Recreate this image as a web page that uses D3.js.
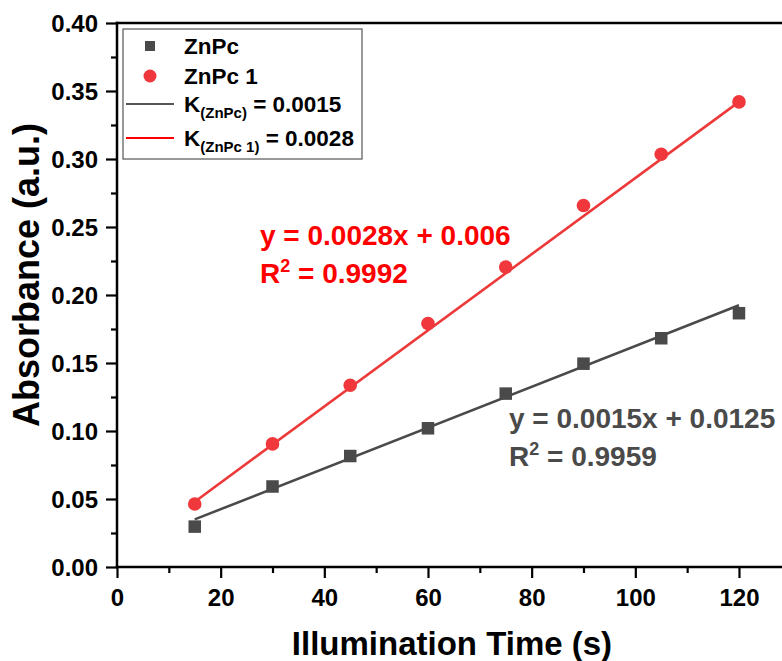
<!DOCTYPE html>
<html>
<head>
<meta charset="utf-8">
<script src="https://cdn.jsdelivr.net/npm/d3@7"></script>
<style>
  html, body { margin: 0; padding: 0; background: #fff; }
  svg { display: block; font-family: "Liberation Sans", Arial, sans-serif; font-weight: bold; }
</style>
</head>
<body>
<svg id="chart" width="782" height="661"></svg>
<script>
// Illumination time (s)
const times = [15, 30, 45, 60, 75, 90, 105, 120];
// Absorbance readings
const absZnPc  = [0.0297, 0.0592, 0.0816, 0.1020, 0.1275, 0.1495, 0.1682, 0.1866];
const absZnPc1 = [0.0463, 0.0905, 0.1336, 0.1790, 0.2205, 0.2658, 0.3035, 0.3420];
// Linear fits: slope, intercept, R^2
const fitZnPc  = [0.0015, 0.0125, 0.9959];
const fitZnPc1 = [0.0028, 0.006, 0.9992];
// Axis ticks
const xMajor = [0, 20, 40, 60, 80, 100, 120];
const xMinor = [10, 30, 50, 70, 90, 110];
const yMajor = [0.00, 0.05, 0.10, 0.15, 0.20, 0.25, 0.30, 0.35, 0.40];
const yMinor = [0.025, 0.075, 0.125, 0.175, 0.225, 0.275, 0.325, 0.375];

const colGray = "#4a4a4a";
const colRedPt = "#f0383c";
const colRedLn = "#ec3a3a";

const svg = d3.select("#chart");
const plotL = 117, plotR = 782, plotT = 23, plotB = 567;

const x = d3.scaleLinear().domain([0, 128.3]).range([plotL, plotR]);
const y = d3.scaleLinear().domain([0, 0.40]).range([plotB, plotT]);

// Axes
function styleAxis(g) {
  g.select(".domain").remove();
  g.selectAll(".tick line").attr("stroke", "#000").attr("stroke-width", 2.2);
  g.selectAll(".tick text").attr("fill", "#000").style("font-weight", "bold").style("font-family", "'Liberation Sans', Arial, sans-serif");
}

const gx = svg.append("g").attr("transform", `translate(0,${plotB})`)
  .call(d3.axisBottom(x).tickValues(xMajor).tickSize(11).tickPadding(11).tickFormat(d3.format("d")));
styleAxis(gx);
gx.selectAll(".tick text").style("font-size", "24px");
const gxm = svg.append("g").attr("transform", `translate(0,${plotB})`)
  .call(d3.axisBottom(x).tickValues(xMinor).tickSize(6).tickFormat(""));
styleAxis(gxm);

const gy = svg.append("g").attr("transform", `translate(${plotL},0)`)
  .call(d3.axisLeft(y).tickValues(yMajor).tickSize(11).tickPadding(8).tickFormat(d3.format(".2f")));
styleAxis(gy);
gy.selectAll(".tick text").style("font-size", "24px").attr("dy", "0.36em");
const gym = svg.append("g").attr("transform", `translate(${plotL},0)`)
  .call(d3.axisLeft(y).tickValues(yMinor).tickSize(6).tickFormat(""));
styleAxis(gym);

// Frame lines (left, bottom, top)
svg.append("line").attr("x1", plotL).attr("x2", plotL).attr("y1", plotT - 1.2).attr("y2", plotB + 1.2)
  .attr("stroke", "#000").attr("stroke-width", 2.5);
svg.append("line").attr("x1", plotL - 1.2).attr("x2", plotR).attr("y1", plotB).attr("y2", plotB)
  .attr("stroke", "#000").attr("stroke-width", 2.5);
svg.append("line").attr("x1", plotL - 1.2).attr("x2", plotR).attr("y1", plotT).attr("y2", plotT)
  .attr("stroke", "#000").attr("stroke-width", 2.5);

// Axis titles
svg.append("text").attr("x", 452).attr("y", 655).attr("text-anchor", "middle")
  .style("font-size", "33px").attr("fill", "#000").text("Illumination Time (s)");
svg.append("text").attr("transform", "translate(39,275) rotate(-90)").attr("text-anchor", "middle")
  .style("font-size", "36px").attr("fill", "#000").text("Absorbance (a.u.)");

// Fit lines
const fitLine = (fit) => d3.line().x(d => x(d)).y(d => y(fit[0] * d + fit[1]));
const xr = [times[0], times[times.length - 1]];
svg.append("path").datum(xr).attr("d", fitLine(fitZnPc)).attr("fill", "none")
  .attr("stroke", colGray).attr("stroke-width", 2.6);
svg.append("path").datum(xr).attr("d", fitLine(fitZnPc1)).attr("fill", "none")
  .attr("stroke", colRedLn).attr("stroke-width", 2.6);

// Data markers
const sq = 12.5;
svg.append("g").selectAll("rect").data(times).join("rect")
  .attr("x", (d) => x(d) - sq / 2).attr("y", (d, i) => y(absZnPc[i]) - sq / 2)
  .attr("width", sq).attr("height", sq).attr("fill", colGray);
svg.append("g").selectAll("circle").data(times).join("circle")
  .attr("cx", d => x(d)).attr("cy", (d, i) => y(absZnPc1[i])).attr("r", 6.8)
  .attr("fill", colRedPt);

// Fit equations
function equation(fit, px, py, color) {
  const t1 = svg.append("text").attr("x", px).attr("y", py).attr("fill", color).style("font-size", "28px");
  t1.text(`y = ${fit[0]}x + ${fit[1]}`);
  const t2 = svg.append("text").attr("x", px).attr("y", py + 38).attr("fill", color).style("font-size", "28px");
  t2.append("tspan").text("R");
  t2.append("tspan").attr("dy", -11).style("font-size", "18px").text("2");
  t2.append("tspan").attr("dy", 11).text(` = ${fit[2]}`);
}
equation(fitZnPc1, 260, 245, "#ff0000");
equation(fitZnPc, 509, 428, colGray);

// Legend
const lg = svg.append("g");
lg.append("rect").attr("x", 123).attr("y", 29).attr("width", 239).attr("height", 130)
  .attr("fill", "#fff").attr("stroke", "#555").attr("stroke-width", 1.2);
const lx = 150, tx = 184;
lg.append("rect").attr("x", lx - 5).attr("y", 46 - 5).attr("width", 10).attr("height", 10).attr("fill", colGray);
lg.append("text").attr("x", tx).attr("y", 54).style("font-size", "22.5px").attr("fill", "#000").text("ZnPc");
lg.append("circle").attr("cx", lx).attr("cy", 76).attr("r", 6.5).attr("fill", colRedPt);
lg.append("text").attr("x", tx).attr("y", 84).style("font-size", "22.5px").attr("fill", "#000").text("ZnPc 1");
lg.append("line").attr("x1", 126).attr("x2", 174).attr("y1", 104).attr("y2", 104)
  .attr("stroke", "#555").attr("stroke-width", 2);
lg.append("line").attr("x1", 126).attr("x2", 174).attr("y1", 138).attr("y2", 138)
  .attr("stroke", "#ff0000").attr("stroke-width", 2);

function kLabel(sub, val, py) {
  const t = lg.append("text").attr("x", tx).attr("y", py).attr("fill", "#000").style("font-size", "22.5px");
  t.append("tspan").text("K");
  t.append("tspan").attr("dy", 6).style("font-size", "15px").text(sub);
  t.append("tspan").attr("dy", -6).text(` = ${val}`);
}
kLabel("(ZnPc)", fitZnPc[0], 112);
kLabel("(ZnPc 1)", fitZnPc1[0], 146);
</script>
</body>
</html>
